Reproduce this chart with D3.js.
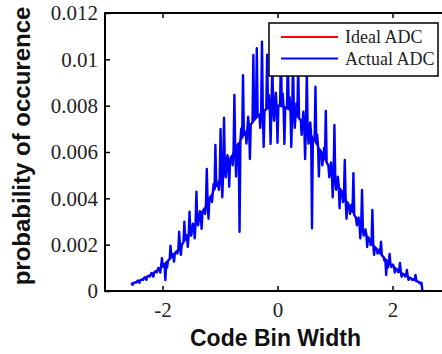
<!DOCTYPE html>
<html>
<head>
<meta charset="utf-8">
<script src="https://cdn.jsdelivr.net/npm/d3@7"></script>
<style>
  html, body { margin: 0; padding: 0; background: #fff; }
  svg { display: block; }
</style>
</head>
<body>
<div id="chart"></div>
<script>
// ideal ADC: probability read every 0.1 code bin from -2.5 to 2.5
const idealStart = -2.5;
const idealStep = 0.1;
const idealProb = [
  0.00035, 0.00045, 0.00057, 0.00071, 0.00088, 0.00108, 0.00132, 0.00158, 0.00189, 0.00222,
  0.00260, 0.00300, 0.00344, 0.00389, 0.00437, 0.00485, 0.00534, 0.00581, 0.00626, 0.00668,
  0.00706, 0.00738, 0.00765, 0.00784, 0.00796, 0.00800, 0.00796, 0.00784, 0.00765, 0.00738,
  0.00706, 0.00668, 0.00626, 0.00581, 0.00534, 0.00485, 0.00437, 0.00389, 0.00344, 0.00300,
  0.00260, 0.00222, 0.00189, 0.00158, 0.00132, 0.00108, 0.00088, 0.00071, 0.00057, 0.00045,
  0.00035
];

// actual ADC: probability read every 0.015 code bin from -2.55 to 2.52
const actualStart = -2.55;
const actualStep = 0.015;
const actualProb = [
  0.00033, 0.00032, 0.00027, 0.00035, 0.00036, 0.00037, 0.00036, 0.00040, 0.00045, 0.00043,
  0.00036, 0.00047, 0.00048, 0.00050, 0.00048, 0.00054, 0.00059, 0.00058, 0.00048, 0.00062,
  0.00064, 0.00066, 0.00063, 0.00070, 0.00078, 0.00075, 0.00062, 0.00080, 0.00083, 0.00086,
  0.00081, 0.00091, 0.00100, 0.00097, 0.00080, 0.00103, 0.00142, 0.00109, 0.00104, 0.00116,
  0.00047, 0.00123, 0.00101, 0.00130, 0.00134, 0.00138, 0.00196, 0.00146, 0.00160, 0.00154,
  0.00127, 0.00163, 0.00167, 0.00172, 0.00162, 0.00181, 0.00256, 0.00190, 0.00156, 0.00200,
  0.00205, 0.00210, 0.00299, 0.00221, 0.00242, 0.00232, 0.00190, 0.00243, 0.00342, 0.00254,
  0.00239, 0.00266, 0.00291, 0.00278, 0.00227, 0.00290, 0.00429, 0.00302, 0.00284, 0.00315,
  0.00344, 0.00328, 0.00268, 0.00342, 0.00348, 0.00355, 0.00333, 0.00369, 0.00527, 0.00383,
  0.00312, 0.00397, 0.00404, 0.00411, 0.00384, 0.00425, 0.00462, 0.00439, 0.00630, 0.00454,
  0.00461, 0.00468, 0.00437, 0.00483, 0.00699, 0.00497, 0.00404, 0.00512, 0.00748, 0.00526,
  0.00491, 0.00541, 0.00586, 0.00555, 0.00450, 0.00569, 0.00576, 0.00583, 0.00543, 0.00597,
  0.00846, 0.00611, 0.00494, 0.00624, 0.00631, 0.00637, 0.00256, 0.00650, 0.00702, 0.00662,
  0.00932, 0.00674, 0.00680, 0.00686, 0.00636, 0.00697, 0.00752, 0.00708, 0.00570, 0.00718,
  0.00723, 0.00728, 0.01019, 0.00737, 0.00793, 0.00746, 0.01048, 0.00754, 0.00758, 0.00761,
  0.00704, 0.00768, 0.01076, 0.00774, 0.00622, 0.00780, 0.00783, 0.00785, 0.01020, 0.00789,
  0.00846, 0.00793, 0.00635, 0.00796, 0.00970, 0.00798, 0.00735, 0.00799, 0.00856, 0.00800,
  0.00640, 0.00800, 0.00800, 0.00799, 0.01040, 0.00798, 0.00853, 0.00796, 0.00635, 0.00793,
  0.00791, 0.00789, 0.01020, 0.00785, 0.00837, 0.00780, 0.00622, 0.00774, 0.01000, 0.00768,
  0.00704, 0.00761, 0.00811, 0.00754, 0.00980, 0.00746, 0.00741, 0.00737, 0.00674, 0.00728,
  0.00774, 0.00718, 0.00570, 0.00708, 0.00950, 0.00697, 0.00636, 0.00686, 0.00728, 0.00674,
  0.00271, 0.00662, 0.00656, 0.00650, 0.00882, 0.00637, 0.00675, 0.00624, 0.00494, 0.00611,
  0.00604, 0.00597, 0.00543, 0.00583, 0.00617, 0.00569, 0.00777, 0.00555, 0.00548, 0.00541,
  0.00491, 0.00526, 0.00555, 0.00512, 0.00404, 0.00497, 0.00717, 0.00483, 0.00437, 0.00468,
  0.00493, 0.00454, 0.00357, 0.00439, 0.00432, 0.00425, 0.00384, 0.00411, 0.00566, 0.00397,
  0.00312, 0.00383, 0.00376, 0.00369, 0.00333, 0.00355, 0.00373, 0.00342, 0.00509, 0.00328,
  0.00322, 0.00315, 0.00284, 0.00302, 0.00317, 0.00290, 0.00227, 0.00278, 0.00436, 0.00266,
  0.00239, 0.00254, 0.00266, 0.00243, 0.00190, 0.00232, 0.00226, 0.00221, 0.00198, 0.00210,
  0.00350, 0.00200, 0.00156, 0.00190, 0.00185, 0.00181, 0.00162, 0.00172, 0.00179, 0.00163,
  0.00213, 0.00154, 0.00150, 0.00146, 0.00131, 0.00138, 0.00069, 0.00130, 0.00101, 0.00123,
  0.00160, 0.00116, 0.00104, 0.00109, 0.00114, 0.00103, 0.00080, 0.00097, 0.00094, 0.00091,
  0.00081, 0.00086, 0.00121, 0.00080, 0.00062, 0.00075, 0.00073, 0.00070, 0.00063, 0.00066,
  0.00091, 0.00062, 0.00048, 0.00058, 0.00056, 0.00054, 0.00048, 0.00050, 0.00052, 0.00047,
  0.00069, 0.00043, 0.00042, 0.00040, 0.00036, 0.00037, 0.00030, 0.00035, 0.00000
];

const xTicks = [-2, 0, 2];
const yTicks = [0, 0.002, 0.004, 0.006, 0.008, 0.01, 0.012];
const legendLabels = ['Ideal ADC', 'Actual ADC'];
const seriesColors = ['#ff0000', '#0000ff'];

const width = 442;
const height = 354;
const margin = { top: 13, right: -8, bottom: 63, left: 105 };

const svg = d3.select('#chart')
  .append('svg')
  .attr('width', width)
  .attr('height', height);

const x = d3.scaleLinear()
  .domain([-3, 3])
  .range([margin.left, width - margin.right]);

const y = d3.scaleLinear()
  .domain([0, 0.012])
  .range([height - margin.bottom, margin.top]);

const idealData = idealProb.map((p, i) => [idealStart + i * idealStep, p]);
const actualData = actualProb.map((p, i) => [actualStart + i * actualStep, p]);

const line = d3.line()
  .x((d) => x(d[0]))
  .y((d) => y(d[1]));

svg.append('path')
  .datum(idealData)
  .attr('d', line)
  .style('fill', 'none')
  .style('stroke', seriesColors[0])
  .style('stroke-width', 1.6);

svg.append('path')
  .datum(actualData)
  .attr('d', line)
  .style('fill', 'none')
  .style('stroke', seriesColors[1])
  .style('stroke-width', 2.4)
  .style('stroke-linejoin', 'round');

const tickFont = (g) => g.selectAll('text')
  .attr('font-family', '"Liberation Serif", "Times New Roman", serif')
  .attr('font-size', 21)
  .attr('fill', '#222');

// bottom axis
svg.append('g')
  .attr('transform', `translate(0,${y(0)})`)
  .call(d3.axisBottom(x)
    .tickValues(xTicks)
    .tickSizeInner(-5)
    .tickSizeOuter(0)
    .tickPadding(11)
    .tickFormat((d) => String(d)))
  .call((g) => g.select('.domain').remove())
  .call((g) => g.selectAll('line').attr('stroke', '#000').attr('stroke-width', 1.5))
  .call(tickFont);

// top axis ticks
svg.append('g')
  .attr('transform', `translate(0,${y(0.012)})`)
  .call(d3.axisTop(x)
    .tickValues(xTicks)
    .tickSizeInner(-5)
    .tickSizeOuter(0)
    .tickFormat(''))
  .call((g) => g.select('.domain').remove())
  .call((g) => g.selectAll('line').attr('stroke', '#000').attr('stroke-width', 1.5));

// left axis
svg.append('g')
  .attr('transform', `translate(${x(-3)},0)`)
  .call(d3.axisLeft(y)
    .tickValues(yTicks)
    .tickSizeInner(-5)
    .tickSizeOuter(0)
    .tickPadding(7)
    .tickFormat((d) => String(+d.toFixed(3))))
  .call((g) => g.select('.domain').remove())
  .call((g) => g.selectAll('line').attr('stroke', '#000').attr('stroke-width', 1.5))
  .call(tickFont);

// frame
svg.append('rect')
  .attr('x', x(-3))
  .attr('y', y(0.012))
  .attr('width', x(3) - x(-3))
  .attr('height', y(0) - y(0.012))
  .style('fill', 'none')
  .style('stroke', '#000')
  .style('stroke-width', 2);

// axis titles
svg.append('text')
  .attr('x', 275.5)
  .attr('y', 346)
  .attr('text-anchor', 'middle')
  .attr('font-family', '"Liberation Sans", Arial, sans-serif')
  .attr('font-weight', 'bold')
  .attr('font-size', 23)
  .attr('fill', '#111')
  .text('Code Bin Width');

svg.append('text')
  .attr('transform', 'translate(30,146) rotate(-90)')
  .attr('text-anchor', 'middle')
  .attr('font-family', '"Liberation Sans", Arial, sans-serif')
  .attr('font-weight', 'bold')
  .attr('font-size', 24)
  .attr('fill', '#111')
  .text('probability of occurence');

// legend
const legend = svg.append('g').attr('transform', 'translate(269,23)');

legend.append('rect')
  .attr('width', 169)
  .attr('height', 53)
  .style('fill', '#fff')
  .style('stroke', '#000')
  .style('stroke-width', 1.5);

legendLabels.forEach((label, i) => {
  const ly = 14 + i * 21.5;
  legend.append('line')
    .attr('x1', 12)
    .attr('x2', 69)
    .attr('y1', ly)
    .attr('y2', ly)
    .style('stroke', seriesColors[i])
    .style('stroke-width', 1.8);
  legend.append('text')
    .attr('x', 76)
    .attr('y', ly)
    .attr('dy', '0.35em')
    .attr('font-family', '"Liberation Serif", "Times New Roman", serif')
    .attr('font-size', 18)
    .attr('fill', '#222')
    .text(label);
});
</script>
</body>
</html>
